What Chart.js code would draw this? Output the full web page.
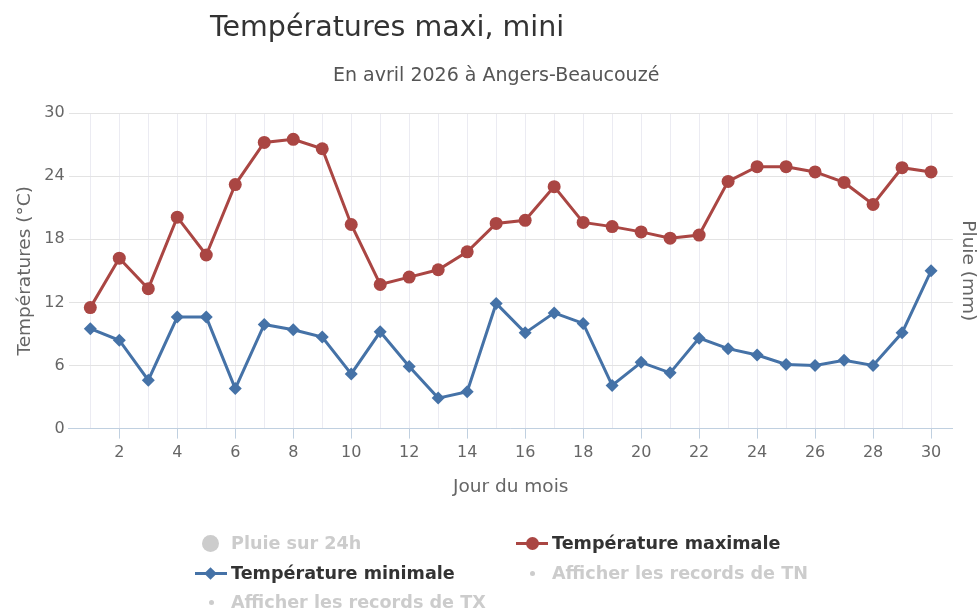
<!DOCTYPE html>
<html lang="fr">
<head>
<meta charset="utf-8">
<script src="https://cdn.jsdelivr.net/npm/chart.js@4.4.0/dist/chart.umd.min.js"></script>
<style>
  body { margin: 0; background: #fff; font-family: "DejaVu Sans", sans-serif; }
  #wrap { position: relative; width: 979px; height: 610px; }
  #graph { position: absolute; left: 0; top: 0; }
  #titre { position: absolute; left: 210px; top: 10px; font-size: 28.5px; color: #333; white-space: nowrap; }
  #soustitre { position: absolute; left: 333px; top: 63px; font-size: 19px; color: #555; white-space: nowrap; }
  .item { position: absolute; height: 24px; display: flex; align-items: center; font-weight: bold; font-size: 17.6px; white-space: nowrap; }
  .symb { position: relative; width: 32px; height: 20px; margin-right: 4px; }
  .trait { position: absolute; left: 0; right: 0; top: 9px; height: 3px; }
  .rond { position: absolute; border-radius: 50%; }
  .losange { position: absolute; left: 11px; top: 5.5px; width: 9px; height: 9px; transform: rotate(45deg); }
</style>
</head>
<body>
<div id="wrap">
  <canvas id="graph" width="979" height="610"></canvas>
  <div id="titre">Températures maxi, mini</div>
  <div id="soustitre">En avril 2026 à Angers-Beaucouzé</div>
  <div id="legende"></div>
</div>
<script>
const jours = [1, 2, 3, 4, 5, 6, 7, 8, 9, 10, 11, 12, 13, 14, 15, 16, 17, 18, 19, 20, 21, 22, 23, 24, 25, 26, 27, 28, 29, 30];
const tempMax = [11.5, 16.2, 13.3, 20.1, 16.5, 23.2, 27.2, 27.5, 26.6, 19.4, 13.7, 14.4, 15.1, 16.8, 19.5, 19.8, 23.0, 19.6, 19.2, 18.7, 18.1, 18.4, 23.5, 24.9, 24.9, 24.4, 23.4, 21.3, 24.8, 24.4];
const tempMin = [9.5, 8.4, 4.6, 10.6, 10.6, 3.8, 9.9, 9.4, 8.7, 5.2, 9.2, 5.9, 2.9, 3.5, 11.9, 9.1, 11.0, 10.0, 4.1, 6.3, 5.3, 8.6, 7.6, 7.0, 6.1, 6.0, 6.5, 6.0, 9.1, 15.0];
const pluie = [];
const yTicks = [0, 6, 12, 18, 24, 30];

// series du legende (celles grisees sont desactivees)
const nomsSeries = ["Pluie sur 24h", "Température maximale", "Température minimale", "Afficher les records de TN", "Afficher les records de TX"];
const actives = [false, true, true, false, false];

const rouge = "#AA4643";
const bleu = "#4572A7";
const gris = "#CCCCCC";

document.addEventListener("DOMContentLoaded", function () {
  const data = {
    datasets: [
      {
        type: "bar",
        label: nomsSeries[0],
        data: pluie,
        yAxisID: "y1",
        backgroundColor: gris,
        hidden: true,
      },
      {
        type: "line",
        label: nomsSeries[1],
        data: jours.map((j, i) => ({ x: j, y: tempMax[i] })),
        borderColor: rouge,
        backgroundColor: rouge,
        borderWidth: 3,
        pointStyle: "circle",
        pointRadius: 6.5,
        pointBorderWidth: 0,
        tension: 0,
      },
      {
        type: "line",
        label: nomsSeries[2],
        data: jours.map((j, i) => ({ x: j, y: tempMin[i] })),
        borderColor: bleu,
        backgroundColor: bleu,
        borderWidth: 3,
        pointStyle: "rectRot",
        pointRadius: 6.5,
        pointBorderWidth: 0,
        tension: 0,
      },
    ],
  };

  const config = {
    data: data,
    options: {
      responsive: false,
      animation: false,
      layout: { padding: { top: 113, left: 12, right: 0, bottom: 112 } },
      plugins: { legend: { display: false }, tooltip: { enabled: false } },
      scales: {
        x: {
          type: "linear",
          min: 0.25,
          max: 30.75,
          offset: false,
          afterBuildTicks: (axis) => {
            axis.ticks = jours.map((j) => ({ value: j }));
          },
          ticks: {
            autoSkip: false,
            maxRotation: 0,
            padding: 5,
            color: "#666",
            font: { family: "DejaVu Sans", size: 16 },
            callback: (v) => (v % 2 === 0 ? v : ""),
          },
          grid: {
            offset: false,
            color: "#ebebf2",
            tickLength: 10,
            tickColor: (ctx) => (ctx.tick && ctx.tick.value % 2 === 0 ? "#C0D0E0" : "rgba(0,0,0,0)"),
          },
          border: { color: "#C0D0E0", width: 1 },
          title: {
            display: true,
            text: "Jour du mois",
            color: "#666",
            font: { family: "DejaVu Sans", size: 18.5 },
            padding: { top: 8, bottom: 0 },
          },
        },
        y: {
          min: 0,
          max: 30,
          afterBuildTicks: (axis) => {
            axis.ticks = yTicks.map((v) => ({ value: v }));
          },
          ticks: { color: "#666", padding: 4, font: { family: "DejaVu Sans", size: 16 } },
          grid: { color: "#e3e3e3", drawTicks: false },
          border: { display: false },
          title: {
            display: true,
            text: "Températures (°C)",
            color: "#666",
            font: { family: "DejaVu Sans", size: 18.5 },
            padding: { top: 2, bottom: 4 },
          },
        },
        y1: {
          position: "right",
          min: 0,
          max: 10,
          ticks: { display: false },
          grid: { display: false, drawTicks: false },
          border: { display: false },
          title: {
            display: true,
            text: "Pluie (mm)",
            color: "#666",
            font: { family: "DejaVu Sans", size: 18.5 },
            padding: { top: 0, bottom: 4 },
          },
        },
      },
    },
  };

  const chart = new Chart(document.getElementById("graph"), config);

  // legende html, 2 colonnes
  const colX = [195, 516];
  const rowY = [531, 561, 590];
  const leg = document.getElementById("legende");
  nomsSeries.forEach((nom, i) => {
    const item = document.createElement("div");
    item.className = "item";
    item.style.left = colX[i % 2] + "px";
    item.style.top = rowY[Math.floor(i / 2)] + "px";
    item.style.color = actives[i] ? "#333" : gris;
    const s = document.createElement("div");
    s.className = "symb";
    if (i === 0) {
      s.innerHTML = '<div class="rond" style="left:7px;top:1.5px;width:17px;height:17px;background:' + gris + '"></div>';
    } else if (i === 1) {
      s.innerHTML = '<div class="trait" style="background:' + rouge + '"></div><div class="rond" style="left:9.5px;top:4px;width:13px;height:13px;background:' + rouge + '"></div>';
    } else if (i === 2) {
      s.innerHTML = '<div class="trait" style="background:' + bleu + '"></div><div class="losange" style="background:' + bleu + '"></div>';
    } else {
      s.innerHTML = '<div class="rond" style="left:13.5px;top:8px;width:5px;height:5px;background:' + gris + '"></div>';
    }
    item.appendChild(s);
    const t = document.createElement("span");
    t.textContent = nom;
    item.appendChild(t);
    leg.appendChild(item);
  });
});
</script>
</body>
</html>
